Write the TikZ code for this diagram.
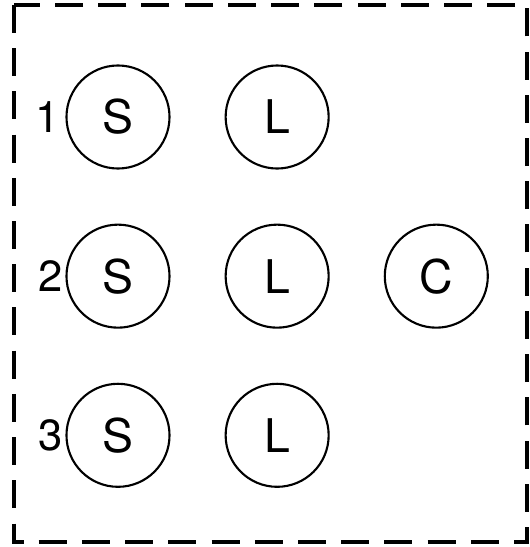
\documentclass[tikz,border=0pt]{standalone}
\usepackage{fontspec}
\setsansfont{TeX Gyre Heros}
\usetikzlibrary{positioning}

\begin{document}
\begin{tikzpicture}[x=0.025cm, y=-0.025cm, node distance=1.35cm,
	unit/.style={draw, circle, line width=1.5pt, minimum size=2.575cm, inner sep=0pt, font=\sffamily\fontsize{33}{33}\selectfont},
	rowlabel/.style={inner sep=1pt, font=\sffamily\fontsize{31}{31}\selectfont}]
	\useasboundingbox (0,0) rectangle (530,547);
	\draw[line width=2.3pt, dash pattern=on 0.7cm off 0.38cm] (14,5) rectangle (527,542);
	\node[unit] (S1) at (118,117) {S};
	\node[unit, right=of S1] (L1) {L};
	\node[unit, below=of S1] (S2) {S};
	\node[unit, right=of S2] (L2) {L};
	\node[unit, right=of L2] (C) {C};
	\node[unit, below=of S2] (S3) {S};
	\node[unit, right=of S3] (L3) {L};
	\node[rowlabel, left=3pt of S1] (n1) {1};
	\node[rowlabel, left=1pt of S2] (n2) {2};
	\node[rowlabel, left=1pt of S3] (n3) {3};
\end{tikzpicture}
\end{document}
